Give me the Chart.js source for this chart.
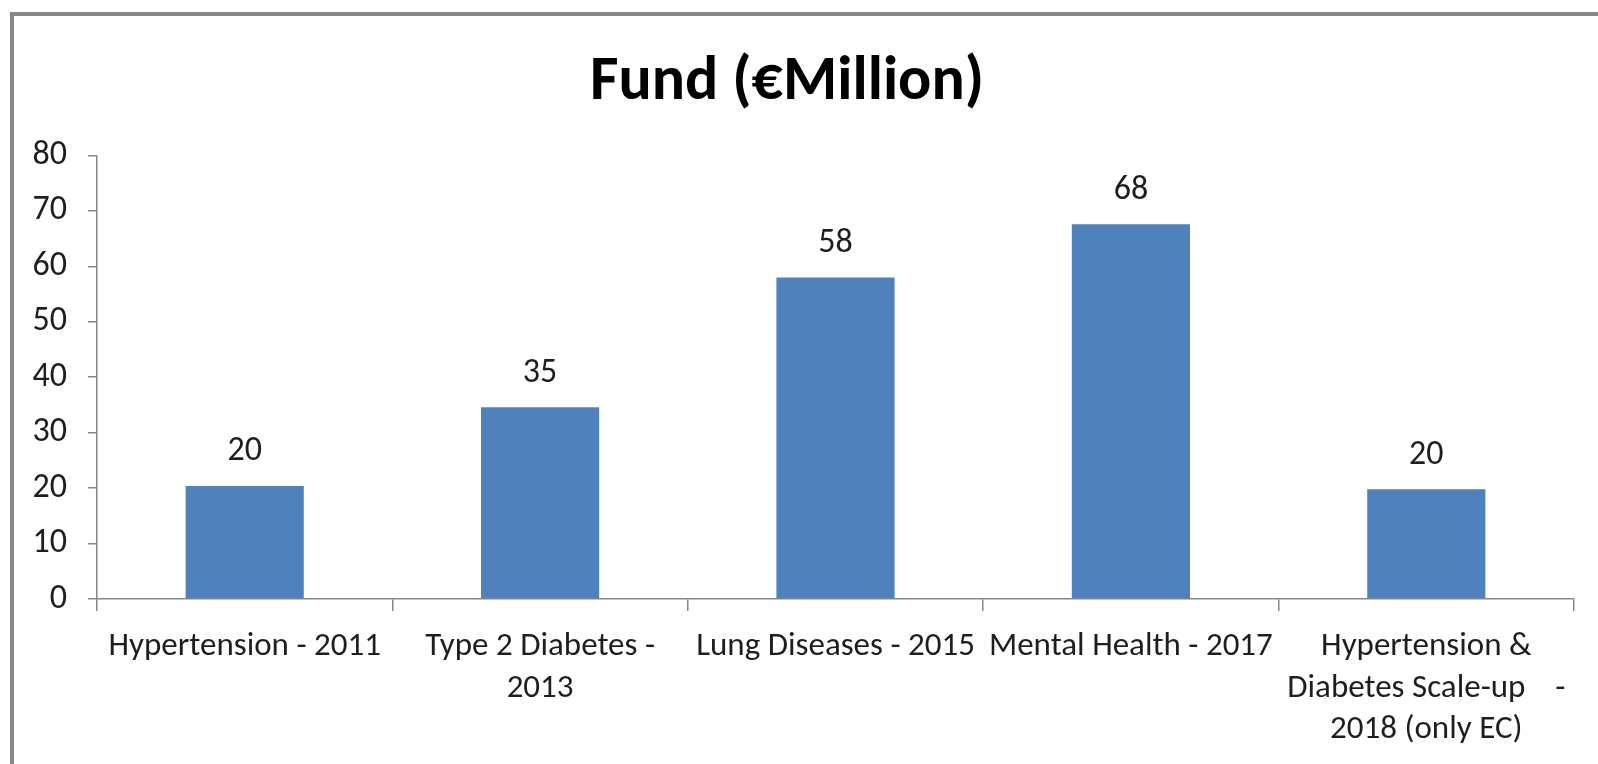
<!DOCTYPE html>
<html>
<head>
<meta charset="utf-8">
<title>Fund (€Million)</title>
<script src="https://cdn.jsdelivr.net/npm/chart.js@4/dist/chart.umd.min.js"></script>
<style>
  html, body { margin: 0; padding: 0; background: #fff; }
  #wrap { position: relative; width: 1598px; height: 764px; overflow: hidden; }
  #frame { position: absolute; left: 10px; top: 12px; width: 1700px; height: 900px;
           border-top: 4px solid #878787; border-left: 4px solid #878787; }
  #chart-fund { position: absolute; left: 0; top: 0; }
</style>
</head>
<body>
<div id="wrap">
  <div id="frame"></div>
  <canvas id="chart-fund" width="1598" height="764"></canvas>
</div>
<script>
var categories = [
    'Hypertension - 2011',
    ['Type 2 Diabetes -', '2013'],
    'Lung Diseases - 2015',
    'Mental Health - 2017',
    ['Hypertension &', 'Diabetes Scale-up    -', '2018 (only EC)']
];
var fundValues = [20.4, 34.6, 58.0, 67.6, 19.8];
var yTicks = { min: 0, max: 80, step: 10 };

var fontFamily = "Carlito, Lato, 'Open Sans', sans-serif";
var textColor = '#1e1e1e';
var axisColor = '#878787';

// draw the value above each bar
var barValues = {
    id: 'barValues',
    afterDatasetsDraw: function(chart) {
        var ctx = chart.ctx;
        var meta = chart.getDatasetMeta(0);
        ctx.save();
        ctx.font = '34px ' + fontFamily;
        ctx.fillStyle = textColor;
        ctx.textAlign = 'center';
        ctx.textBaseline = 'middle';
        meta.data.forEach(function(bar, i) {
            ctx.fillText(Math.round(fundValues[i]), bar.x, bar.y - 34);
        });
        ctx.restore();
    }
};

var ctx = document.getElementById('chart-fund');
var fundChart = new Chart(ctx, {
    type: 'bar',
    data: {
        labels: categories,
        datasets: [{
            data: fundValues,
            backgroundColor: '#4F81BD',
            borderWidth: 0,
            categoryPercentage: 0.4,
            barPercentage: 1.0
        }]
    },
    options: {
        responsive: false,
        animation: false,
        devicePixelRatio: 1,
        layout: { padding: { left: 0, right: 24, top: 0, bottom: 0 } },
        plugins: {
            legend: { display: false },
            tooltip: { enabled: false },
            title: {
                display: true,
                text: 'Fund (€Million)',
                color: '#000',
                font: { family: fontFamily, size: 62, weight: 'bold' },
                padding: { top: 46, bottom: 35 }
            }
        },
        scales: {
            y: {
                min: yTicks.min,
                max: yTicks.max,
                ticks: {
                    stepSize: yTicks.step,
                    color: textColor,
                    padding: 21,
                    font: { family: fontFamily, size: 34 }
                },
                border: { color: axisColor, width: 1.5 },
                grid: { drawOnChartArea: false, tickLength: 9, color: axisColor, lineWidth: 1.5 },
                afterFit: function(scale) { scale.width = 97; }
            },
            x: {
                offset: true,
                ticks: {
                    color: textColor,
                    autoSkip: false,
                    maxRotation: 0,
                    padding: 15,
                    font: { family: fontFamily, size: 33, lineHeight: 1.26 }
                },
                border: { color: axisColor, width: 1.5 },
                grid: { offset: true, drawOnChartArea: false, tickLength: 12, color: axisColor, lineWidth: 1.5 },
                afterFit: function(scale) { scale.height = 165; }
            }
        }
    },
    plugins: [barValues]
});
</script>
</body>
</html>
